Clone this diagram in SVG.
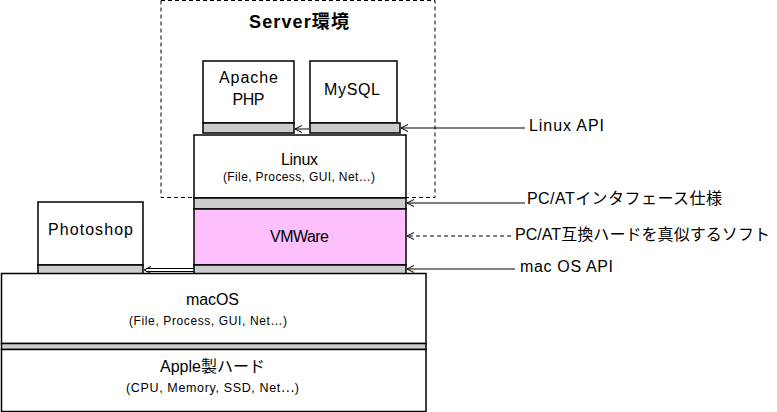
<svg xmlns="http://www.w3.org/2000/svg" width="777" height="412" viewBox="0 0 777 412">
<defs>
<style>
.box{fill:#fff;stroke:#000;stroke-width:1.5}
.bar{fill:#cccccc;stroke:#000;stroke-width:1.5}
.t{font-family:"Liberation Sans","Noto Sans CJK JP",sans-serif;fill:#000;text-anchor:middle}
.l{font-family:"Liberation Sans","Noto Sans CJK JP",sans-serif;fill:#000;font-size:16px}
.big{font-size:16px}
.small{font-size:12px}
.c{fill:none;stroke:#000;stroke-width:1}
</style>
<marker id="ah" viewBox="0 0 10 10" refX="9" refY="5" markerWidth="10" markerHeight="10" markerUnits="userSpaceOnUse" orient="auto">
<path d="M2,1.5 L9,5 L2,8.5" fill="none" stroke="#000" stroke-width="1"/>
</marker>
</defs>
<g id="server-env">
<rect x="161" y="0.5" width="274" height="197" fill="none" stroke="#000" stroke-width="1" stroke-dasharray="4,3"/>
<text class="t" x="299" y="28" font-size="18" font-weight="bold" textLength="100">Server環境</text>
</g>
<g id="apache">
<rect class="box" x="203" y="61" width="91" height="62"/>
<rect class="bar" x="203" y="123" width="91" height="10"/>
<text class="t big" x="248.5" y="83" textLength="59">Apache</text>
<text class="t big" x="248.5" y="105" textLength="32">PHP</text>
</g>
<g id="mysql">
<rect class="box" x="310" y="61" width="87" height="62"/>
<rect class="bar" x="310" y="123" width="90" height="10"/>
<text class="t big" x="352" y="95" textLength="56">MySQL</text>
</g>
<g id="linux">
<rect class="box" x="194" y="135" width="212" height="63"/>
<rect class="bar" x="194" y="198" width="212" height="11"/>
<text class="t big" x="299.5" y="165" textLength="37">Linux</text>
<text class="t small" x="299" y="181" textLength="152">(File, Process, GUI, Net…)</text>
</g>
<g id="vmware">
<rect x="194" y="209" width="212" height="56" fill="#ffc0ff" stroke="#000" stroke-width="1.5"/>
<rect class="bar" x="194" y="265" width="212" height="9"/>
<text class="t big" x="299.5" y="242" textLength="59">VMWare</text>
</g>
<g id="photoshop">
<rect class="box" x="38" y="202" width="105" height="63"/>
<rect class="bar" x="38" y="265" width="105" height="9"/>
<text class="t big" x="90.5" y="235" textLength="85">Photoshop</text>
</g>
<g id="macos">
<rect class="box" x="1.5" y="273.5" width="424.5" height="70"/>
<rect class="bar" x="1.5" y="343.5" width="424.5" height="6"/>
<text class="t big" x="212.5" y="305" textLength="53">macOS</text>
<text class="t small" x="208" y="325" textLength="158">(File, Process, GUI, Net…)</text>
</g>
<g id="apple-hw">
<rect class="box" x="1.5" y="349.5" width="424.5" height="62"/>
<text class="t" x="212.5" y="372" font-size="16">Apple製ハード</text>
<text class="t" x="212.5" y="392" font-size="12.5" textLength="173">(CPU, Memory, SSD, Net<tspan font-family="Noto Sans CJK JP">…</tspan>)</text>
</g>
<g id="connectors">
<line class="c" x1="309" y1="129" x2="295" y2="129" marker-end="url(#ah)"/>
<line class="c" x1="525" y1="128" x2="401" y2="128" marker-end="url(#ah)"/>
<line class="c" x1="525" y1="203" x2="407" y2="203" marker-end="url(#ah)"/>
<line class="c" x1="511" y1="236" x2="407" y2="236" stroke-dasharray="4,3" marker-end="url(#ah)"/>
<line class="c" x1="515" y1="269" x2="407" y2="269" marker-end="url(#ah)"/>
<line class="c" x1="194" y1="268.5" x2="146" y2="268.5"/>
<line class="c" x1="194" y1="271.5" x2="146" y2="271.5"/>
<path d="M151,266.5 L144,270 L151,273.5" fill="none" stroke="#000" stroke-width="1"/>
</g>
<g id="labels">
<text class="l" x="529" y="131" textLength="75">Linux API</text>
<text class="l" x="527" y="204" textLength="195" font-size="17">PC/ATインタフェース仕様</text>
<text class="l" x="515" y="240" textLength="255" font-size="17">PC/AT互換ハードを真似するソフト</text>
<text class="l" x="520" y="272" textLength="93">mac OS API</text>
</g>
</svg>
